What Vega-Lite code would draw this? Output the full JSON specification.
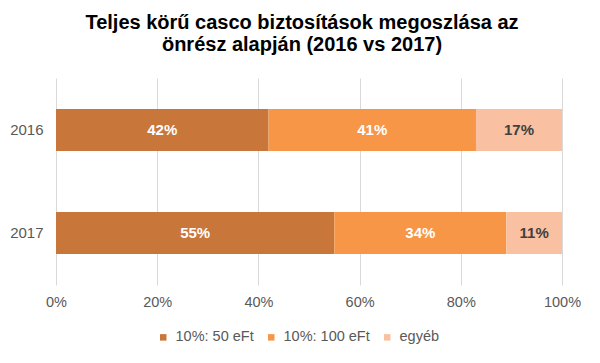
{
  "$schema": "https://vega.github.io/schema/vega-lite/v6.json",
  "width": 506,
  "height": 207,
  "autosize": {"type": "none"},
  "padding": {"left": 56, "top": 78, "right": 38, "bottom": 78},
  "background": "white",
  "config": {
    "font": "Liberation Sans",
    "view": {"stroke": null}
  },
  "title": {
    "text": ["Teljes körű casco biztosítások megoszlása az", "önrész alapján (2016 vs 2017)"],
    "fontSize": 20,
    "fontWeight": "bold",
    "color": "#000000",
    "lineHeight": 22,
    "anchor": "middle",
    "dx": -7,
    "offset": 23
  },
  "data": {
    "values": [
      {"year": "2016", "cat": "10%: 50 eFt", "order": 1, "value": 0.42},
      {"year": "2016", "cat": "10%: 100 eFt", "order": 2, "value": 0.41},
      {"year": "2016", "cat": "egyéb", "order": 3, "value": 0.17},
      {"year": "2017", "cat": "10%: 50 eFt", "order": 1, "value": 0.55},
      {"year": "2017", "cat": "10%: 100 eFt", "order": 2, "value": 0.34},
      {"year": "2017", "cat": "egyéb", "order": 3, "value": 0.11}
    ]
  },
  "transform": [
    {"stack": "value", "groupby": ["year"], "sort": [{"field": "order"}], "as": ["v0", "v1"]},
    {"calculate": "(datum.v0 + datum.v1) / 2", "as": "mid"}
  ],
  "encoding": {
    "y": {
      "field": "year",
      "type": "nominal",
      "title": null,
      "scale": {"paddingInner": 0.592, "paddingOuter": 0.301},
      "axis": {
        "domain": false,
        "ticks": false,
        "labelFontSize": 15,
        "labelColor": "#595959",
        "labelPadding": 13
      }
    }
  },
  "layer": [
    {
      "mark": {"type": "bar"},
      "encoding": {
        "x": {
          "field": "v0",
          "type": "quantitative",
          "title": null,
          "scale": {"domain": [0, 1]},
          "axis": {
            "format": ".0%",
            "values": [0, 0.2, 0.4, 0.6, 0.8, 1],
            "domain": false,
            "ticks": false,
            "grid": true,
            "gridColor": "#D9D9D9",
            "gridWidth": 1,
            "labelFlush": false,
            "labelFontSize": 14.5,
            "labelColor": "#595959",
            "labelPadding": 10
          }
        },
        "x2": {"field": "v1"},
        "color": {
          "field": "cat",
          "type": "nominal",
          "sort": ["10%: 50 eFt", "10%: 100 eFt", "egyéb"],
          "scale": {
            "domain": ["10%: 50 eFt", "10%: 100 eFt", "egyéb"],
            "range": ["#C8763A", "#F79646", "#F9C1A1"]
          },
          "legend": {
            "title": null,
            "orient": "none",
            "direction": "horizontal",
            "legendX": 100,
            "legendY": 252,
            "symbolType": "square",
            "symbolSize": 42,
            "symbolStrokeWidth": 0,
            "labelFontSize": 14.5,
            "labelColor": "#595959",
            "labelOffset": 5,
            "columnPadding": 10
          }
        }
      }
    },
    {
      "mark": {"type": "text", "fontSize": 15, "fontWeight": "bold", "baseline": "middle", "align": "center"},
      "encoding": {
        "x": {"field": "mid", "type": "quantitative"},
        "text": {"field": "value", "type": "quantitative", "format": ".0%"},
        "color": {
          "condition": {"test": "datum.cat === 'egyéb'", "value": "#404040"},
          "value": "#FFFFFF"
        }
      }
    }
  ]
}
